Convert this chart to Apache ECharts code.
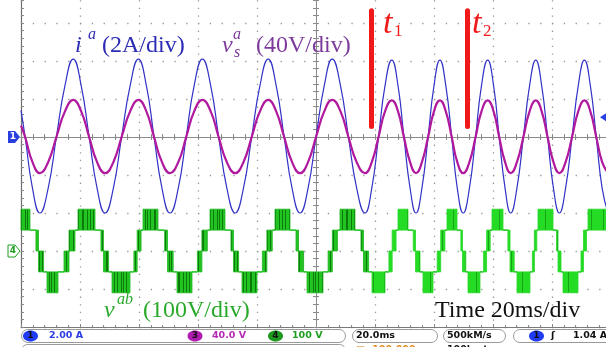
<!DOCTYPE html>
<html>
<head>
<meta charset="utf-8">
<script src="https://cdn.jsdelivr.net/npm/echarts/dist/echarts.min.js"></script>
<style>
  html, body { margin: 0; padding: 0; background: #ffffff; overflow: hidden; width: 606px; height: 347px; position: relative; }
  /* the scope screen is slightly larger than the window: its top graticule row and right edge are cut */
  #scope { position: absolute; left: 0; top: -15px; width: 611px; height: 362px; }
</style>
</head>
<body>
<div id="scope"></div>
<script>
// ---- time base: ms relative to the trigger point, 20 ms/div ----
const timeMin = -100;
const timeMax = 100;
const timePerDiv = 20;

// ---- channel 1 (i^a, A) and channel 3 (vs^a, V), sampled at the same instants ----
const sampleTimes = [
  -100, -98.6, -96.1, -93.6, -90.8, -88.0, -85.1, -82.3, -79.6, -76.9, -74.2, -71.5,
  -68.7, -65.9, -63.0, -60.2, -57.5, -54.9, -52.2, -49.5, -46.7, -44.0, -41.3, -38.5,
  -35.7, -33.0, -30.2, -27.4, -24.6, -21.8, -19.0, -16.2, -13.5, -10.8, -8.1, -5.4,
  -2.7, 0.0, 2.8, 5.5, 8.3, 11.0, 13.8, 16.6, 18.9, 21.2, 23.4, 25.7,
  27.8, 29.8, 31.9, 33.9, 35.9, 38.0, 40.0, 42.0, 44.0, 46.0, 47.9, 49.9,
  52.0, 54.1, 56.1, 58.2, 60.2, 62.1, 64.1, 66.0, 68.1, 70.3, 72.4, 74.5,
  76.5, 78.5, 80.5, 82.5, 84.6, 86.8, 88.9, 91.0, 93.0, 95.0, 97.0, 99.0
];
const iaValues = [
  1.4, 0, -2.7, -4.0, -2.7, 0, 2.7, 4.1, 2.7, 0, -2.7, -4.0,
  -2.7, 0, 2.7, 4.1, 2.7, 0, -2.7, -4.0, -2.7, 0, 2.7, 4.1,
  2.7, 0, -2.7, -4.0, -2.7, 0, 2.7, 4.1, 2.7, 0, -2.7, -4.0,
  -2.7, 0, 2.7, 4.1, 2.7, 0, -2.7, -4.0, -2.7, 0, 2.7, 4.05,
  2.7, 0, -2.7, -4.0, -2.7, 0, 2.7, 4.05, 2.7, 0, -2.7, -4.0,
  -2.7, 0, 2.7, 4.05, 2.7, 0, -2.7, -4.0, -2.7, 0, 2.7, 4.05,
  2.7, 0, -2.7, -4.0, -2.7, 0, 2.7, 4.05, 2.7, 0, -2.7, -4.0
];
const vsValues = [
  12, 0, -26.5, -38, -26.5, 0, 27, 39, 27, 0, -26.5, -38,
  -26.5, 0, 27, 39, 27, 0, -26.5, -38, -26.5, 0, 27, 39,
  27, 0, -26.5, -38, -26.5, 0, 27, 39, 27, 0, -26.5, -38,
  -26.5, 0, 27, 39, 27, 0, -26.5, -38, -26.5, 0, 27, 38.5,
  27, 0, -26.5, -38, -26.5, 0, 27, 38.5, 27, 0, -26.5, -38,
  -26.5, 0, 27, 38.5, 27, 0, -26.5, -38, -26.5, 0, 27, 38.5,
  27, 0, -26.5, -38, -26.5, 0, 27, 38.5, 27, 0, -26.5, -38
];

// ---- channel 4 (v^ab, V): staircase of the multilevel converter ----
// each row: [start ms, end ms, lower level V, upper level V]; equal levels = flat step,
// different levels = PWM band switching between the two levels
const vabSegments = [
  [-100, -96.95, 55, 110],
  [-96.95, -94.93, 55, 55], [-94.93, -94.07, 0, 55], [-94.07, -92.34, -55, 0], [-92.34, -91.19, -55, -55],
  [-91.19, -87.46, -110, -55],
  [-87.46, -85.43, -55, -55], [-85.43, -83.73, -55, 0], [-83.73, -81.70, 0, 55], [-81.70, -80.68, 55, 55],
  [-80.68, -74.92, 55, 110],
  [-74.92, -72.90, 55, 55], [-72.90, -72.04, 0, 55], [-72.04, -70.30, -55, 0], [-70.30, -69.15, -55, -55],
  [-69.15, -63.05, -110, -55],
  [-63.05, -61.73, -55, -55], [-61.73, -60.62, -55, 0], [-60.62, -59.30, 0, 55], [-59.30, -58.64, 55, 55],
  [-58.64, -53.56, 55, 110],
  [-53.56, -51.31, 55, 55], [-51.31, -50.34, 0, 55], [-50.34, -48.41, -55, 0], [-48.41, -47.12, -55, -55],
  [-47.12, -42.03, -110, -55],
  [-42.03, -40.20, -55, -55], [-40.20, -38.68, -55, 0], [-38.68, -36.85, 0, 55], [-36.85, -35.93, 55, 55],
  [-35.93, -30.85, 55, 110],
  [-30.85, -28.83, 55, 55], [-28.83, -27.97, 0, 55], [-27.97, -26.23, -55, 0], [-26.23, -25.08, -55, -55],
  [-25.08, -20.00, -110, -55],
  [-20.00, -18.17, -55, -55], [-18.17, -16.65, -55, 0], [-16.65, -14.82, 0, 55], [-14.82, -13.90, 55, 55],
  [-13.90, -8.81, 55, 110],
  [-8.81, -6.79, 55, 55], [-6.79, -5.93, 0, 55], [-5.93, -4.20, -55, 0], [-4.20, -3.05, -55, -55],
  [-3.05, 2.37, -110, -55],
  [2.37, 4.10, -55, -55], [4.10, 5.54, -55, 0], [5.54, 7.27, 0, 55], [7.27, 8.14, 55, 55],
  [8.14, 13.22, 55, 110],
  [13.22, 15.24, 55, 55], [15.24, 16.10, 0, 55], [16.10, 17.83, -55, 0], [17.83, 18.98, -55, -55],
  [18.98, 23.39, -110, -55],
  [23.39, 24.71, -55, -55], [24.71, 25.82, -55, 0], [25.82, 27.14, 0, 55], [27.14, 27.80, 55, 55],
  [27.80, 31.19, 55, 110],
  [31.19, 32.97, 55, 55], [32.97, 33.73, 0, 55], [33.73, 35.25, -55, 0], [35.25, 36.27, -55, -55],
  [36.27, 39.66, -110, -55],
  [39.66, 41.09, -55, -55], [41.09, 42.27, -55, 0], [42.27, 43.70, 0, 55], [43.70, 44.41, 55, 55],
  [44.41, 47.80, 55, 110],
  [47.80, 49.11, 55, 55], [49.11, 49.67, 0, 55], [49.67, 50.78, -55, 0], [50.78, 51.53, -55, -55],
  [51.53, 55.59, -110, -55],
  [55.59, 56.81, -55, -55], [56.81, 57.83, -55, 0], [57.83, 59.05, 0, 55], [59.05, 59.66, 55, 55],
  [59.66, 63.39, 55, 110],
  [63.39, 65.05, 55, 55], [65.05, 65.77, 0, 55], [65.77, 67.19, -55, 0], [67.19, 68.14, -55, -55],
  [68.14, 72.54, -110, -55],
  [72.54, 73.35, -55, -55], [73.35, 74.03, -55, 0], [74.03, 74.85, 0, 55], [74.85, 75.25, 55, 55],
  [75.25, 80.34, 55, 110],
  [80.34, 81.53, 55, 55], [81.53, 82.04, 0, 55], [82.04, 83.05, -55, 0], [83.05, 83.73, -55, -55],
  [83.73, 88.81, -110, -55],
  [88.81, 89.83, -55, -55], [89.83, 90.67, -55, 0], [90.67, 91.69, 0, 55], [91.69, 92.20, 55, 55],
  [92.20, 100, 55, 110]
];

// ---- event instants t1, t2 (ms) ----
const eventTimes = [18.81, 51.19];
const eventSubscripts = ['1', '2'];

// ---- channel scales (per division) and trigger ----
const ampsPerDiv = 2;
const vsPerDiv = 40;
const vabPerDiv = 100;
const vabOffsetDiv = -3;      // channel 4 ground sits 3 divisions below channel 1
const triggerLevel = 1.04;    // A

// vertical window in divisions relative to channel 1 ground
const divBottom = -5, divTop = 4;

function zip(a, b) { return a.map((v, i) => [v, b[i]]); }

function stripes(base, dark, cols, w) {
  const c = document.createElement('canvas');
  c.width = w; c.height = 4;
  const g = c.getContext('2d');
  g.fillStyle = base; g.fillRect(0, 0, w, 4);
  g.fillStyle = dark;
  cols.forEach(x => g.fillRect(x, 0, 1, 4));
  return { image: c, repeat: 'repeat' };
}
const bandEarly = stripes('#22c422', '#0b7a0b', [1, 3, 6, 10, 11, 15, 18, 21], 24);
const bandLate = stripes('#25dc25', '#17a317', [5, 16], 23);

const chart = echarts.init(document.getElementById('scope'), null, { renderer: 'canvas' });

const dotCol = '#979797';
const axisCol = '#8a8a8a';

function crossAxis(extra) {
  return Object.assign({
    type: 'value', min: timeMin, max: timeMax, interval: timePerDiv,
    axisLabel: { show: false },
    splitLine: { show: false },
    axisLine: { show: true, lineStyle: { color: axisCol, width: 1 } },
    axisTick: { show: true, length: 3, lineStyle: { color: axisCol } },
    minorTick: { show: true, splitNumber: 5, length: 3, lineStyle: { color: axisCol } }
  }, extra);
}

function ampAxis(extra) {
  return Object.assign({
    type: 'value', min: divBottom * ampsPerDiv, max: divTop * ampsPerDiv, interval: ampsPerDiv,
    axisLabel: { show: false },
    splitLine: { show: false },
    axisLine: { show: true, lineStyle: { color: axisCol, width: 1 } },
    axisTick: { show: true, length: 3, lineStyle: { color: axisCol } },
    minorTick: { show: true, splitNumber: 5, length: 3, lineStyle: { color: axisCol } }
  }, extra);
}

const option = {
  animation: false,
  backgroundColor: '#ffffff',
  grid: { left: 21, right: 0, top: 0, bottom: 20, show: false },
  xAxis: [
    crossAxis({
      position: 'bottom',
      axisLine: { show: true, onZero: false, lineStyle: { color: '#7a7a7a', width: 1 } },
      axisTick: { show: true, inside: true, length: 3, lineStyle: { color: axisCol } },
      minorTick: { show: true, splitNumber: 5, length: 2, lineStyle: { color: axisCol } },
      splitLine: { show: true, lineStyle: { color: dotCol, width: 1.3, type: [1.3, 6.3] } }
    }),
    crossAxis({ position: 'bottom', axisLine: { show: true, onZero: true, onZeroAxisIndex: 0, lineStyle: { color: axisCol } },
      axisTick: { show: true, inside: true, length: 3, lineStyle: { color: axisCol } } }),
    crossAxis({ position: 'bottom', axisLine: { show: true, onZero: true, onZeroAxisIndex: 3, lineStyle: { color: axisCol } },
      axisTick: { show: true, inside: false, length: 3, lineStyle: { color: axisCol } } })
  ],
  yAxis: [
    ampAxis({
      position: 'left',
      axisLine: { show: true, onZero: false, lineStyle: { color: '#6e6e6e', width: 1.2 } },
      axisTick: { show: true, inside: true, length: 3, lineStyle: { color: axisCol } },
      minorTick: { show: true, splitNumber: 5, length: 3, lineStyle: { color: axisCol } },
      splitLine: { show: true, lineStyle: { color: dotCol, width: 1.3, type: [1.3, 10.5] } }
    }),
    ampAxis({ position: 'left', axisLine: { show: true, onZero: true, onZeroAxisIndex: 0, lineStyle: { color: axisCol } },
      axisTick: { show: true, inside: true, length: 3, lineStyle: { color: axisCol } } }),
    ampAxis({ position: 'left', axisLine: { show: true, onZero: true, onZeroAxisIndex: 1, lineStyle: { color: axisCol } },
      axisTick: { show: true, inside: false, length: 3, lineStyle: { color: axisCol } } }),
    { type: 'value', show: false, min: divBottom * vsPerDiv, max: divTop * vsPerDiv, interval: vsPerDiv },
    { type: 'value', show: false, min: (divBottom - vabOffsetDiv) * vabPerDiv,
      max: (divTop - vabOffsetDiv) * vabPerDiv, interval: vabPerDiv }
  ],
  series: [
    {
      name: 'i^a', type: 'line', xAxisIndex: 0, yAxisIndex: 0,
      data: zip(sampleTimes, iaValues), smooth: 0.5, symbol: 'none', z: 3,
      lineStyle: { color: '#3232c6', width: 1.2 },
      markLine: {
        silent: true, symbol: ['none', 'none'], label: { show: false },
        lineStyle: { color: '#f01818', width: 5, type: 'solid', cap: 'round' },
        data: eventTimes.map(t => [{ coord: [t, 0.55] }, { coord: [t, 6.65] }])
      }
    },
    {
      name: 'vs^a', type: 'line', xAxisIndex: 0, yAxisIndex: 3,
      data: zip(sampleTimes, vsValues), smooth: 0.5, symbol: 'none', z: 4,
      lineStyle: { color: '#b0189e', width: 2.2 }
    },
    {
      name: 'v^ab', type: 'custom', xAxisIndex: 0, yAxisIndex: 4, z: 5,
      data: vabSegments,
      renderItem: function (params, api) {
        const t0 = api.value(0), t1 = api.value(1), lo = api.value(2), hi = api.value(3);
        const a = api.coord([t0, hi]);
        const b = api.coord([t1, lo]);
        if (lo === hi) {
          return { type: 'line', shape: { x1: a[0], y1: a[1], x2: b[0], y2: b[1] },
            style: { stroke: '#22c822', lineWidth: 1.6 } };
        }
        const late = t0 >= eventTimes[0];
        return { type: 'rect',
          shape: { x: a[0], y: a[1], width: b[0] - a[0], height: b[1] - a[1] },
          style: { fill: late ? bandLate : bandEarly, stroke: late ? '#27d827' : '#1fb81f', lineWidth: 0.8 } };
      }
    }
  ]
};
chart.setOption(option);

// ---- annotations (window coordinates; the group shifts them onto the taller canvas) ----
const screenShift = 15;
const serif = '"Liberation Serif", "Times New Roman", serif';
function txt(x, y, s, size, color, italic, family) {
  return { type: 'text', x: x, y: y, z: 20, silent: true,
    style: { text: s, fill: color, verticalAlign: 'middle', align: 'left',
      font: (italic ? 'italic ' : '') + size + 'px ' + (family || serif) } };
}
const blueTxt = '#2c2cb4', purpleTxt = '#7c3a9c', greenTxt = '#2aaa2a', red = '#ee1a1a';

const g = [
  txt(75, 45.6, 'i', 24, blueTxt, true),
  txt(88, 35, 'a', 16, blueTxt, true),
  txt(102, 45.6, '(2A/div)', 24, blueTxt, false),
  txt(222, 45.6, 'v', 24, purpleTxt, true),
  txt(234, 52.5, 's', 16, purpleTxt, true),
  txt(233, 35, 'a', 16, purpleTxt, true),
  txt(256, 45.6, '(40V/div)', 24, purpleTxt, false),
  txt(104, 310.6, 'v', 24, greenTxt, true),
  txt(117, 300, 'ab', 16, greenTxt, true),
  txt(143, 310.6, '(100V/div)', 24, greenTxt, false),
  txt(435, 310.6, 'Time 20ms/div', 24, '#111111', false)
];

// event labels t1, t2 next to their bars
const tLabelX = [383, 472];
eventTimes.forEach((t, i) => {
  g.push(txt(tLabelX[i], 24.5, 't', 34, red, true));
  g.push(txt(tLabelX[i] + 11, 32, eventSubscripts[i], 17, red, false));
});

// channel ground markers and trigger level marker
const y1 = chart.convertToPixel({ yAxisIndex: 0 }, 0) - screenShift;
const y4 = chart.convertToPixel({ yAxisIndex: 4 }, 0) - screenShift;
const yTrig = chart.convertToPixel({ yAxisIndex: 0 }, triggerLevel) - screenShift;
const sans = '"DejaVu Sans", sans-serif';
g.push({ type: 'polygon', z: 20, silent: true,
  shape: { points: [[8, y1 - 6], [15, y1 - 6], [20, y1], [15, y1 + 6], [8, y1 + 6]] },
  style: { fill: '#2a3fe0' } });
g.push({ type: 'text', z: 21, silent: true, x: 13, y: y1,
  style: { text: '1', fill: '#ffffff', font: 'bold 9px ' + sans, align: 'center', verticalAlign: 'middle' } });
g.push({ type: 'polygon', z: 20, silent: true,
  shape: { points: [[8, y4 - 6], [15, y4 - 6], [20, y4], [15, y4 + 6], [8, y4 + 6]] },
  style: { fill: '#ffffff', stroke: '#1e9e1e', lineWidth: 1 } });
g.push({ type: 'text', z: 21, silent: true, x: 13, y: y4,
  style: { text: '4', fill: '#1e9e1e', font: 'bold 9px ' + sans, align: 'center', verticalAlign: 'middle' } });
g.push({ type: 'polygon', z: 20, silent: true,
  shape: { points: [[600, yTrig], [606, yTrig - 4], [606, yTrig + 4]] },
  style: { fill: '#2a3fe0' } });

// ---- status bar ----
const barY = 329.5, barH = 13, midY = 336;
function box(x, w) {
  return { type: 'rect', z: 20, silent: true, shape: { x: x, y: barY, width: w, height: barH, r: 6.5 },
    style: { fill: '#ffffff', stroke: '#9a9a9a', lineWidth: 1 } };
}
function badge(cx, fill, label) {
  return [
    { type: 'ellipse', z: 21, silent: true, shape: { cx: cx, cy: midY, rx: 7.5, ry: 5.5 }, style: { fill: fill } },
    { type: 'text', z: 22, silent: true, x: cx, y: midY,
      style: { text: label, fill: '#101010', font: 'bold 9px ' + sans, align: 'center', verticalAlign: 'middle' } }
  ];
}
function stxt(x, s, color) {
  return { type: 'text', z: 21, silent: true, x: x, y: midY,
    style: { text: s, fill: color, font: 'bold 9.5px ' + sans, align: 'left', verticalAlign: 'middle' } };
}
g.push(box(21.5, 324), box(352.5, 85), box(443.5, 62), box(513.5, 100));
g.push(...badge(30.5, '#1f3cf2', '1'), stxt(49, '2.00 A', '#2a3ce6'));
g.push(...badge(195, '#b01cb0', '3'), stxt(212, '40.0 V', '#b42ab4'));
g.push(...badge(275.5, '#1d9a1d', '4'), stxt(292, '100 V', '#1e9e1e'));
g.push(stxt(356, '20.0ms', '#111111'));
g.push(stxt(447, '500kM/s', '#111111'));
g.push(...badge(536.5, '#1f3cf2', '1'), stxt(551, '\u0283', '#111111'), stxt(573, '1.04 A', '#111111'));
g.push({ type: 'rect', z: 20, silent: true, shape: { x: 21.5, y: 344.5, width: 324, height: 12, r: 6 },
  style: { fill: '#ffffff', stroke: '#9a9a9a', lineWidth: 1 } });
g.push({ type: 'text', z: 21, silent: true, x: 356, y: 349.5,
  style: { text: '\u25A1 -100.000us', fill: '#e08a20', font: 'bold 9.5px ' + sans, verticalAlign: 'middle' } });
g.push({ type: 'text', z: 21, silent: true, x: 447, y: 349.5,
  style: { text: '100k pts', fill: '#111111', font: 'bold 9.5px ' + sans, verticalAlign: 'middle' } });

chart.setOption({ graphic: { elements: [{ type: 'group', x: 0, y: screenShift, children: g }] } });
</script>
</body>
</html>
